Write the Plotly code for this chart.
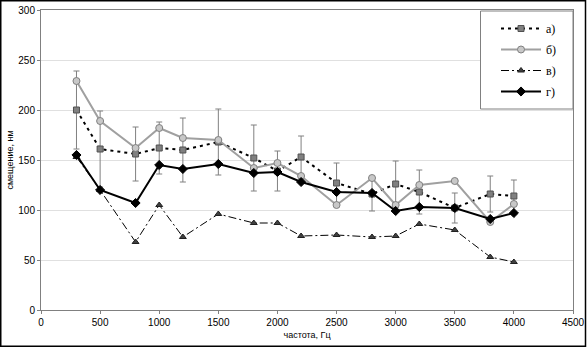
import plotly.graph_objects as go

freq = [300, 500, 800, 1000, 1200, 1500, 1800, 2000, 2200, 2500, 2800, 3000, 3200, 3500, 3800, 4000]
series_a = [200, 161, 156, 162, 160, 168, 152, 139, 153, 127, 116, 126, 118, 102, 116, 114]
err_a = [39, 38, 27, 26, 32, 33, 33, 20, 21, 20, 17, 23, 22, 15, 18, 16]
series_b = [229, 189, 162, 182, 172, 170, 142, 147, 134, 105, 132, 105, 125, 129, 88, 106]
series_v = [153, 120, 68, 105, 73, 96, 87, 87, 74, 75, 73, 74, 86, 80, 53, 48]
series_g = [155, 120, 107, 145, 141, 146, 137, 138, 128, 118, 117, 99, 103, 102, 91, 97]
names = ["а)", "б)", "в)", "г)"]
x_ticks = [0, 500, 1000, 1500, 2000, 2500, 3000, 3500, 4000, 4500]
y_ticks = [0, 50, 100, 150, 200, 250, 300]

fig = go.Figure()
fig.add_trace(go.Scatter(
    x=freq, y=series_a, name=names[0], mode="lines+markers", legendgroup="a",
    line=dict(color="black", width=2, dash="3px,4px"),
    marker=dict(symbol="square", size=6, color="#808080", line=dict(color="#505050", width=1)),
    error_y=dict(type="data", array=err_a, visible=True, color="#808080", thickness=1, width=3),
))
fig.add_trace(go.Scatter(
    x=freq, y=series_b, name=names[1], mode="lines+markers", legendgroup="b",
    line=dict(color="#a0a0a0", width=2),
    marker=dict(symbol="circle", size=7, color="#c8c8c8", line=dict(color="#808080", width=1)),
))
fig.add_trace(go.Scatter(
    x=freq, y=series_v, name=names[2], mode="lines+markers", legendgroup="v",
    line=dict(color="black", width=1, dash="8px,3px,2px,3px"),
    marker=dict(symbol="triangle-up", size=6, color="#404040", line=dict(color="#202020", width=1)),
))
fig.add_trace(go.Scatter(
    x=freq, y=series_g, name=names[3], mode="lines+markers", legendgroup="g",
    line=dict(color="black", width=2),
    marker=dict(symbol="diamond", size=7, color="black", line=dict(color="black", width=1)),
))

ml, mr, mt, mb = 41, 14, 10, 37
pw, ph = 587 - ml - mr, 347 - mt - mb


def px(x):
    return (x - ml) / pw


def py(y):
    return (310 - y) / ph


fig.update_layout(
    width=587, height=347,
    margin=dict(l=ml, r=mr, t=mt, b=mb, pad=0, autoexpand=False),
    paper_bgcolor="white", plot_bgcolor="white",
    font=dict(family="Liberation Sans, Arial", size=10, color="black"),
    xaxis=dict(range=[0, 4500], tickvals=x_ticks, ticks="outside", ticklen=3, tickcolor="#808080",
               showgrid=False, zeroline=False, showline=True, linecolor="#808080", linewidth=1, mirror=True,
               automargin=False,
               title=dict(text="частота, Гц", font=dict(size=9), standoff=4)),
    yaxis=dict(range=[0, 300], tickvals=y_ticks, ticks="outside", ticklen=3, tickcolor="#808080",
               showgrid=True, gridcolor="#e0e0e0", gridwidth=1, zeroline=False,
               showline=True, linecolor="#808080", linewidth=1, mirror=True,
               automargin=False,
               title=dict(text="смещение, нм", font=dict(size=9), standoff=3)),
    legend=dict(x=px(496), y=py(14), xanchor="left", yanchor="top",
                borderwidth=0, bgcolor="rgba(0,0,0,0)",
                font=dict(family="Liberation Serif, Times New Roman", size=12),
                itemwidth=40, traceorder="grouped", tracegroupgap=2),
    showlegend=True,
    shapes=[
        dict(type="rect", xref="paper", yref="paper",
             x0=px(480.5), x1=px(573), y0=py(109), y1=py(11),
             line=dict(color="#808080", width=1), fillcolor="white", layer="above"),
        dict(type="rect", xref="paper", yref="paper",
             x0=px(0.75), x1=px(585.5), y0=py(346.25), y1=py(0.75),
             line=dict(color="black", width=1.5), layer="above"),
    ],
)

fig.write_html("out.html", config={"displayModeBar": False},
               post_script="document.body.style.margin='0';document.body.style.overflow='hidden';")
